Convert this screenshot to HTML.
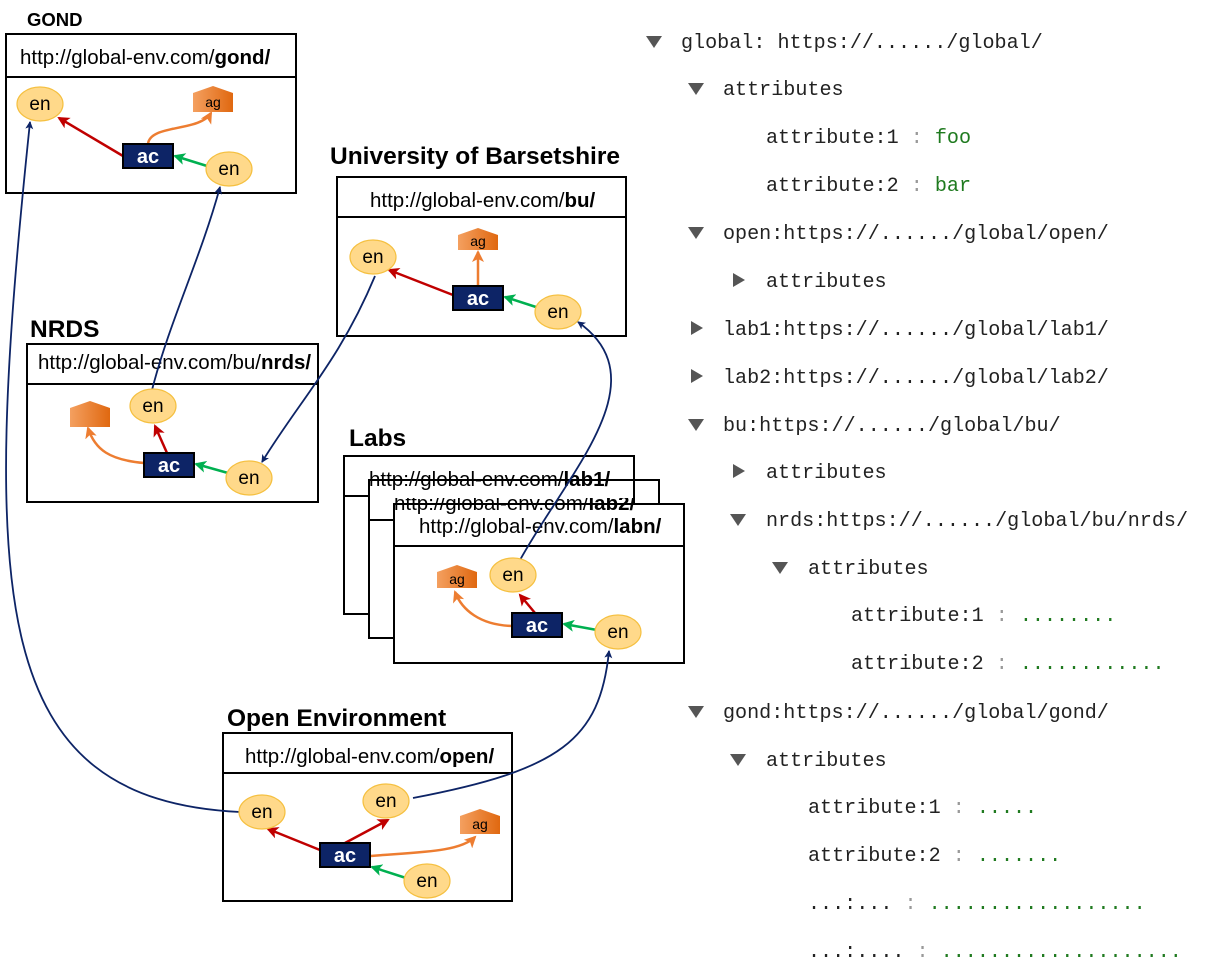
<!DOCTYPE html>
<html><head><meta charset="utf-8"><style>
body{margin:0;background:#fff;width:1222px;height:977px;overflow:hidden}
svg{position:absolute;left:0;top:0}
.u{font-family:"Liberation Sans",sans-serif;font-size:20.5px;fill:#000}
.t{font-family:"Liberation Sans",sans-serif;font-size:24.5px;font-weight:bold;fill:#000}
.n{font-family:"Liberation Sans",sans-serif;font-size:19px;fill:#000;text-anchor:middle}
.ac{font-family:"Liberation Sans",sans-serif;font-size:20px;font-weight:bold;fill:#fff;text-anchor:middle}
.ag{font-family:"Liberation Sans",sans-serif;font-size:14px;fill:#000;text-anchor:middle}
.m{font-family:"Liberation Mono",monospace;font-size:20.1px;fill:#222}
.g{fill:#1f7a1f}.s{fill:#999}
.tri{fill:#555}
</style></head><body>
<svg width="1222" height="977" viewBox="0 0 1222 977">
<defs>
<marker id="ab" markerWidth="8" markerHeight="8" refX="7" refY="4" orient="auto" markerUnits="userSpaceOnUse"><path d="M0,0 L8,4 L0,8 L2,4z" fill="#0d2466"/></marker>
<marker id="ar" markerWidth="12" markerHeight="12" refX="10" refY="6" orient="auto" markerUnits="userSpaceOnUse"><path d="M0,0 L12,6 L0,12 L3,6z" fill="#c00000"/></marker>
<marker id="ag" markerWidth="12" markerHeight="12" refX="10" refY="6" orient="auto" markerUnits="userSpaceOnUse"><path d="M0,0 L12,6 L0,12 L3,6z" fill="#00b050"/></marker>
<marker id="ao" markerWidth="12" markerHeight="12" refX="10" refY="6" orient="auto" markerUnits="userSpaceOnUse"><path d="M0,0 L12,6 L0,12 L3,6z" fill="#ed7d31"/></marker>
<linearGradient id="og" x1="0" x2="1"><stop offset="0" stop-color="#f4a060"/><stop offset="1" stop-color="#e06810"/></linearGradient>
</defs>

<g fill="#fff" stroke="#000" stroke-width="2">
<rect x="6" y="34" width="290" height="159"/><line x1="6" y1="77" x2="296" y2="77"/>
<rect x="337" y="177" width="289" height="159"/><line x1="337" y1="217" x2="626" y2="217"/>
<rect x="27" y="344" width="291" height="158"/><line x1="27" y1="384" x2="318" y2="384"/>
<rect x="344" y="456" width="290" height="158"/><line x1="344" y1="496" x2="634" y2="496"/>
<rect x="369" y="480" width="290" height="158"/><line x1="369" y1="520" x2="659" y2="520"/>
<rect x="394" y="504" width="290" height="159"/><line x1="394" y1="546" x2="684" y2="546"/>
<rect x="223" y="733" width="289" height="168"/><line x1="223" y1="773" x2="512" y2="773"/>
</g>

<text class="t" x="27" y="26" style="font-size:18.5px">GOND</text>
<text class="t" x="330" y="164">University of Barsetshire</text>
<text class="t" x="30" y="337">NRDS</text>
<text class="t" x="349" y="446">Labs</text>
<text class="t" x="227" y="726">Open Environment</text>

<text class="u" x="20" y="64">http://global-env.com/<tspan font-weight="bold">gond/</tspan></text>
<text class="u" x="370" y="207">http://global-env.com/<tspan font-weight="bold">bu/</tspan></text>
<text class="u" x="38" y="369">http://global-env.com/bu/<tspan font-weight="bold">nrds/</tspan></text>
<text class="u" x="369" y="486">http://global-env.com/<tspan font-weight="bold">lab1/</tspan></text>
<text class="u" x="394" y="510">http://global-env.com/<tspan font-weight="bold">lab2/</tspan></text>
<rect x="370" y="490" width="263" height="8" fill="#fff"/><rect x="395" y="514" width="263" height="8" fill="#fff"/>
<line x1="369" y1="480" x2="659" y2="480" stroke="#000" stroke-width="2"/><line x1="394" y1="504" x2="684" y2="504" stroke="#000" stroke-width="2"/>
<line x1="634" y1="480" x2="634" y2="504" stroke="#000" stroke-width="2"/><line x1="659" y1="504" x2="659" y2="504" stroke="#000" stroke-width="2"/>
<text class="u" x="419" y="533">http://global-env.com/<tspan font-weight="bold">labn/</tspan></text>
<text class="u" x="245" y="763">http://global-env.com/<tspan font-weight="bold">open/</tspan></text>

<g stroke-width="2.5" fill="none">
<line x1="123" y1="156" x2="59" y2="118" stroke="#c00000" marker-end="url(#ar)"/>
<line x1="207" y1="166" x2="175" y2="156" stroke="#00b050" marker-end="url(#ag)"/>
<path d="M148,144 C150,124 200,132 211,113" stroke="#ed7d31" marker-end="url(#ao)"/>
<line x1="453" y1="295" x2="389" y2="270" stroke="#c00000" marker-end="url(#ar)"/>
<line x1="536" y1="307" x2="505" y2="297" stroke="#00b050" marker-end="url(#ag)"/>
<line x1="478" y1="286" x2="478" y2="252" stroke="#ed7d31" marker-end="url(#ao)"/>
<line x1="167" y1="453" x2="155" y2="426" stroke="#c00000" marker-end="url(#ar)"/>
<line x1="228" y1="473" x2="196" y2="464" stroke="#00b050" marker-end="url(#ag)"/>
<path d="M144,463 C110,460 95,450 88,428" stroke="#ed7d31" marker-end="url(#ao)"/>
<line x1="535" y1="613" x2="520" y2="595" stroke="#c00000" marker-end="url(#ar)"/>
<line x1="597" y1="630" x2="564" y2="624" stroke="#00b050" marker-end="url(#ag)"/>
<path d="M512,626 C480,625 462,610 455,592" stroke="#ed7d31" marker-end="url(#ao)"/>
<line x1="320" y1="850" x2="268" y2="829" stroke="#c00000" marker-end="url(#ar)"/>
<line x1="345" y1="843" x2="388" y2="820" stroke="#c00000" marker-end="url(#ar)"/>
<line x1="406" y1="878" x2="372" y2="867" stroke="#00b050" marker-end="url(#ag)"/>
<path d="M370,856 C420,852 460,852 475,837" stroke="#ed7d31" marker-end="url(#ao)"/>
</g>

<g stroke="#0d2466" stroke-width="1.8" fill="none">
<path d="M240,812 C-10,800 -20,600 30,122" marker-end="url(#ab)"/>
<path d="M413,798 C560,770 600,740 609,651" marker-end="url(#ab)"/>
<path d="M520,560 C570,470 660,380 578,322" marker-end="url(#ab)"/>
<path d="M375,276 C340,360 300,400 262,462" marker-end="url(#ab)"/>
<path d="M152,390 C170,320 200,260 220,187" marker-end="url(#ab)"/>
</g>

<g fill="#ffd98a" stroke="#f5c040" stroke-width="1.2">
<ellipse cx="40" cy="104" rx="23" ry="17"/><ellipse cx="229" cy="169" rx="23" ry="17"/>
<ellipse cx="373" cy="257" rx="23" ry="17"/><ellipse cx="558" cy="312" rx="23" ry="17"/>
<ellipse cx="153" cy="406" rx="23" ry="17"/><ellipse cx="249" cy="478" rx="23" ry="17"/>
<ellipse cx="513" cy="575" rx="23" ry="17"/><ellipse cx="618" cy="632" rx="23" ry="17"/>
<ellipse cx="262" cy="812" rx="23" ry="17"/><ellipse cx="386" cy="801" rx="23" ry="17"/><ellipse cx="427" cy="881" rx="23" ry="17"/>
</g>
<text class="n" x="40" y="110">en</text><text class="n" x="229" y="175">en</text>
<text class="n" x="373" y="263">en</text><text class="n" x="558" y="318">en</text>
<text class="n" x="153" y="412">en</text><text class="n" x="249" y="484">en</text>
<text class="n" x="513" y="581">en</text><text class="n" x="618" y="638">en</text>
<text class="n" x="262" y="818">en</text><text class="n" x="386" y="807">en</text><text class="n" x="427" y="887">en</text>
<g fill="#0d2466" stroke="#000" stroke-width="2">
<rect x="123" y="144" width="50" height="24"/><rect x="453" y="286" width="50" height="24"/>
<rect x="144" y="453" width="50" height="24"/><rect x="512" y="613" width="50" height="24"/>
<rect x="320" y="843" width="50" height="24"/>
</g>
<text class="ac" x="148" y="163">ac</text><text class="ac" x="478" y="305">ac</text>
<text class="ac" x="169" y="472">ac</text><text class="ac" x="537" y="632">ac</text>
<text class="ac" x="345" y="862">ac</text>
<g fill="url(#og)">
<path d="M193,93 L213,86 L233,93 L233,112 L193,112z"/>
<path d="M458,235 L478,228 L498,235 L498,250 L458,250z"/>
<path d="M70,408 L90,401 L110,408 L110,427 L70,427z"/>
<path d="M437,572 L457,565 L477,572 L477,588 L437,588z"/>
<path d="M460,816 L480,809 L500,816 L500,834 L460,834z"/>
</g>
<text class="ag" x="213" y="107">ag</text><text class="ag" x="478" y="246">ag</text>
<text class="ag" x="457" y="584">ag</text><text class="ag" x="480" y="829">ag</text>

<g>
<path class="tri" d="M646,36 L662,36 L654,48z"/>
<text class="m" x="681" y="48">global: https://....../global/</text>
<path class="tri" d="M688,83 L704,83 L696,95z"/>
<text class="m" x="723" y="95">attributes</text>
<text class="m" x="766" y="143">attribute:1<tspan class="s"> : </tspan><tspan class="g">foo</tspan></text>
<text class="m" x="766" y="191">attribute:2<tspan class="s"> : </tspan><tspan class="g">bar</tspan></text>
<path class="tri" d="M688,227 L704,227 L696,239z"/>
<text class="m" x="723" y="239">open:https://....../global/open/</text>
<path class="tri" d="M733,273 L745,280 L733,287z"/>
<text class="m" x="766" y="287">attributes</text>
<path class="tri" d="M691,321 L703,328 L691,335z"/>
<text class="m" x="723" y="335">lab1:https://....../global/lab1/</text>
<path class="tri" d="M691,369 L703,376 L691,383z"/>
<text class="m" x="723" y="383">lab2:https://....../global/lab2/</text>
<path class="tri" d="M688,419 L704,419 L696,431z"/>
<text class="m" x="723" y="431">bu:https://....../global/bu/</text>
<path class="tri" d="M733,464 L745,471 L733,478z"/>
<text class="m" x="766" y="478">attributes</text>
<path class="tri" d="M730,514 L746,514 L738,526z"/>
<text class="m" x="766" y="526">nrds:https://....../global/bu/nrds/</text>
<path class="tri" d="M772,562 L788,562 L780,574z"/>
<text class="m" x="808" y="574">attributes</text>
<text class="m" x="851" y="621">attribute:1<tspan class="s"> : </tspan><tspan class="g">........</tspan></text>
<text class="m" x="851" y="669">attribute:2<tspan class="s"> : </tspan><tspan class="g">............</tspan></text>
<path class="tri" d="M688,706 L704,706 L696,718z"/>
<text class="m" x="723" y="718">gond:https://....../global/gond/</text>
<path class="tri" d="M730,754 L746,754 L738,766z"/>
<text class="m" x="766" y="766">attributes</text>
<text class="m" x="808" y="813">attribute:1<tspan class="s"> : </tspan><tspan class="g">.....</tspan></text>
<text class="m" x="808" y="861">attribute:2<tspan class="s"> : </tspan><tspan class="g">.......</tspan></text>
<text class="m" x="808" y="909">...:...<tspan class="s"> : </tspan><tspan class="g">..................</tspan></text>
<text class="m" x="808" y="957">...:....<tspan class="s"> : </tspan><tspan class="g">....................</tspan></text>
</g>
</svg>
</body></html>
